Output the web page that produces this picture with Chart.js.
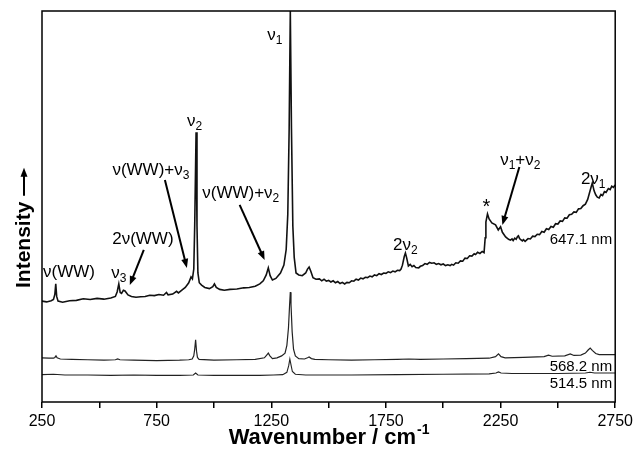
<!DOCTYPE html>
<html>
<head>
<meta charset="utf-8">
<script src="https://cdn.jsdelivr.net/npm/chart.js@4"></script>
<style>
  body { margin: 0; background: #fff; }
  canvas { display: block; }
</style>
</head>
<body>
<canvas id="myChart" width="637" height="457"></canvas>
<script>
// 647.1 nm spectrum (top)
const wn647 = [
  250, 270, 290, 300, 306, 310, 314, 320, 340, 370, 400, 430, 460, 490, 520, 550, 570, 578, 585, 591, 597, 605, 612, 625, 640, 660, 680, 700, 720, 740, 760, 780, 793, 800, 820, 837, 845, 860, 875, 890, 900, 906, 912, 916, 922, 926, 930, 936, 946, 960, 980, 995, 1002, 1010, 1025, 1045, 1070, 1100, 1130, 1154, 1180, 1200, 1215, 1228, 1237, 1245, 1255, 1270, 1290, 1305, 1315, 1322, 1328, 1333, 1338, 1344, 1350, 1358, 1370, 1385, 1400, 1408, 1415, 1422, 1432, 1445,
  1460, 1470, 1480, 1490, 1500, 1510, 1520, 1530, 1540, 1550, 1560, 1570, 1580, 1590, 1600, 1610, 1620, 1630, 1640, 1650, 1660, 1670, 1680, 1690, 1700, 1710, 1720, 1730, 1740, 1750, 1760, 1770, 1780, 1790, 1800, 1810, 1816, 1822, 1830, 1835, 1840,
  1848, 1856, 1864, 1872, 1880, 1893, 1900, 1910, 1920, 1930, 1940, 1950, 1960, 1970, 1980, 1990, 2000, 2010, 2020, 2030, 2037, 2045, 2055, 2065, 2075, 2085, 2095, 2105, 2115, 2125, 2135, 2141, 2150, 2160, 2170, 2178,
  2183, 2186, 2193, 2200, 2212, 2228, 2240, 2250, 2258, 2272, 2285,
  2293, 2300, 2305, 2312, 2318, 2324, 2328, 2333, 2338, 2345, 2350, 2357, 2363, 2370, 2380, 2390, 2400, 2410, 2420, 2430, 2440, 2450, 2460, 2470, 2480, 2490, 2500, 2510, 2520, 2530, 2540, 2550, 2560, 2570, 2580, 2590, 2600, 2610, 2620, 2630, 2638, 2645, 2650, 2658, 2665, 2672, 2680, 2688, 2695, 2703, 2710, 2720, 2728, 2735, 2742, 2750
];
const int647 = [
  25.8, 25.6, 25.9, 26.2, 27.5, 30.2, 27.0, 25.8, 25.5, 25.9, 26.0, 26.4, 26.2, 26.5, 26.3, 26.6, 27.0, 28.2, 30.2, 28.0, 27.8, 28.6, 28.4, 27.4, 27.0, 26.8, 26.9, 27.0, 27.3, 27.2, 27.5, 27.3, 28.0, 27.4, 27.6, 28.3, 27.9, 28.6, 29.3, 30.5, 32.0, 31.5, 34.0, 45.0, 69.0, 45.0, 33.0, 30.5, 29.9, 29.3, 29.0, 29.5, 30.2, 29.3, 28.8, 28.6, 28.8, 28.9, 29.2, 29.3, 29.6, 30.2, 31.0, 32.5, 34.3, 32.3, 31.2, 31.6, 33.0, 35.0, 39.0, 48.0, 70.0, 100.0, 70.0, 45.0, 37.0, 33.0, 32.5, 32.3, 33.0, 34.0, 34.5, 33.5, 31.8, 31.4,
  31.5, 31.0, 31.4, 30.9, 31.1, 30.7, 31.0, 30.5, 30.8, 30.3, 30.6, 30.2, 30.6, 30.5, 31.0, 30.9, 31.4, 31.2, 31.7, 31.5, 31.9, 31.8, 32.2, 32.0, 32.5, 32.3, 32.8, 32.6, 33.0, 32.9, 33.3, 33.1, 33.5, 33.3, 33.7, 33.6, 34.0, 35.0, 37.2, 38.1, 37.0,
  34.8, 35.2, 34.6, 34.9, 34.4, 34.3, 34.7, 34.9, 35.4, 35.2, 35.7, 35.5, 35.6, 35.2, 35.4, 35.1, 35.3, 34.9, 35.1, 34.9, 35.2, 35.0, 35.6, 35.5, 36.1, 36.0, 36.8, 36.7, 37.4, 37.3, 37.9, 37.7, 38.3, 38.0, 38.5, 38.2,
  42.0, 46.0, 48.1, 46.8, 45.8, 45.3, 44.0, 44.8, 43.4, 42.2, 41.6,
  41.4, 41.7, 41.3, 41.9, 41.6, 42.3, 42.5, 41.8, 41.5, 41.2, 41.5, 41.1, 41.4, 41.8, 41.7, 42.4, 42.3, 42.9, 42.8, 43.6, 43.4, 44.3, 44.1, 44.9, 44.7, 45.6, 45.5, 46.3, 46.2, 47.1, 47.0, 47.9, 48.0, 48.6, 48.5, 49.4, 49.5, 50.2, 50.6, 51.8, 53.5, 55.0, 56.0, 54.0, 53.0, 52.4, 52.2, 53.1, 52.8, 53.8, 53.6, 54.6, 54.3, 55.2, 54.9, 55.5
];

// 568.2 nm spectrum (middle)
const wn568 = [250, 280, 300, 306, 311, 316, 330, 380, 450, 520, 570, 580, 590, 650, 750, 850, 890, 905, 912, 916, 920, 924, 928, 935, 1000, 1100, 1180, 1220, 1230, 1237, 1244, 1255, 1275, 1295, 1310, 1318, 1325, 1330, 1333, 1336, 1341, 1347, 1355, 1370, 1395, 1408, 1415, 1425, 1440, 1500, 1600, 1700, 1800, 1850, 1900, 2000, 2100, 2200, 2228, 2241, 2252, 2270, 2350, 2440, 2459, 2475, 2530, 2554, 2570, 2600, 2620, 2632, 2641, 2650, 2665, 2680, 2750];
const int568 = [11.3, 11.2, 11.2, 11.4, 11.8, 11.3, 11.0, 10.9, 10.8, 10.7, 10.8, 11.0, 10.8, 10.7, 10.6, 10.7, 10.8, 11.0, 11.8, 13.5, 15.9, 13.0, 11.4, 10.9, 10.7, 10.8, 10.9, 11.3, 12.0, 12.5, 11.8, 11.1, 11.3, 11.8, 12.5, 14.5, 19.0, 25.0, 28.1, 25.0, 18.0, 13.5, 11.8, 11.1, 11.0, 11.3, 11.5, 11.1, 10.9, 10.8, 10.7, 10.8, 10.9, 11.0, 10.9, 11.0, 11.1, 11.2, 11.6, 12.3, 11.6, 11.3, 11.4, 11.6, 12.0, 11.7, 11.8, 12.3, 11.9, 12.0, 12.5, 13.3, 13.8, 13.2, 12.4, 12.1, 12.1];

// 514.5 nm spectrum (bottom)
const wn514 = [250, 300, 350, 450, 550, 650, 750, 850, 910, 920, 930, 1000, 1100, 1200, 1260, 1300, 1318, 1326, 1331, 1336, 1342, 1355, 1400, 1600, 1800, 2000, 2200, 2230, 2241, 2252, 2300, 2500, 2620, 2640, 2660, 2750];
const int514 = [7.0, 7.1, 6.9, 6.9, 6.8, 6.9, 6.8, 6.8, 6.9, 7.4, 6.9, 6.8, 6.8, 6.8, 6.9, 7.0, 7.6, 9.3, 11.0, 9.5, 7.8, 7.1, 6.9, 6.9, 7.0, 7.1, 7.2, 7.4, 7.7, 7.4, 7.3, 7.3, 7.4, 7.6, 7.4, 7.4];

// peak labels ('_' = subscript next char), placed in data units
const peakText = ['ν_1', 'ν_2', 'ν(WW)+ν_3', 'ν(WW)+ν_2', '2ν(WW)', 'ν(WW)', 'ν_3', '2ν_2', '*', 'ν_1+ν_2', '2ν_1'];
const peakWn   = [1265, 916, 725, 1117, 690, 368, 585, 1835, 2188, 2336, 2654];
const peakInt  = [94.1, 72.1, 59.6, 53.7, 41.9, 33.5, 33.2, 40.4, 50.1, 62.1, 57.3];

// arrows: [fromWn, fromInt, toWn, toInt]
const arrows = [
  [786, 56.8, 882, 34.3],
  [1112, 50.4, 1221, 36.3],
  [694, 38.9, 633, 29.9],
  [2332, 60.1, 2258, 45.3]
];

// excitation wavelength tags (right aligned)
const seriesNames = ['647.1 nm', '568.2 nm', '514.5 nm'];
const nameInt = [41.9, 9.2, 4.9];

const FONT = '"Liberation Sans", Arial, sans-serif';

function toPts(xs, ys) {
  return xs.map((w, i) => ({ x: w, y: ys[i] }));
}

function drawRich(ctx, str, cx, cy, size, align) {
  const parts = [];
  for (let i = 0; i < str.length; i++) {
    if (str[i] === '_') { parts.push({ t: str[i + 1], sub: true }); i++; }
    else parts.push({ t: str[i], sub: false });
  }
  let w = 0;
  parts.forEach(p => {
    ctx.font = (p.sub ? Math.round(size * 0.7) : size) + 'px ' + FONT;
    p.w = ctx.measureText(p.t).width;
    w += p.w;
  });
  let x = align === 'right' ? cx - w : cx - w / 2;
  const base = cy + size * 0.36;
  ctx.textAlign = 'left';
  ctx.textBaseline = 'alphabetic';
  parts.forEach(p => {
    ctx.font = (p.sub ? Math.round(size * 0.7) : size) + 'px ' + FONT;
    ctx.fillText(p.t, x, p.sub ? base + size * 0.22 : base);
    x += p.w;
  });
}

function arrow(ctx, x1, y1, x2, y2) {
  const a = Math.atan2(y2 - y1, x2 - x1);
  const hl = 9, hw = 3.5;
  ctx.beginPath();
  ctx.moveTo(x1, y1);
  ctx.lineTo(x2 - Math.cos(a) * hl * 0.8, y2 - Math.sin(a) * hl * 0.8);
  ctx.stroke();
  ctx.beginPath();
  ctx.moveTo(x2, y2);
  ctx.lineTo(x2 - Math.cos(a) * hl - Math.sin(a) * hw, y2 - Math.sin(a) * hl + Math.cos(a) * hw);
  ctx.lineTo(x2 - Math.cos(a) * hl + Math.sin(a) * hw, y2 - Math.sin(a) * hl - Math.cos(a) * hw);
  ctx.closePath();
  ctx.fill();
}

const annot = {
  id: 'annot',
  afterDraw(chart) {
    const { ctx, chartArea: a, scales: { x, y } } = chart;
    ctx.save();
    ctx.fillStyle = '#000';
    ctx.strokeStyle = '#000';

    // frame
    ctx.lineWidth = 1.5;
    ctx.strokeRect(a.left, a.top, a.right - a.left, a.bottom - a.top);

    // peak labels
    peakText.forEach((t, i) => {
      drawRich(ctx, t, x.getPixelForValue(peakWn[i]), y.getPixelForValue(peakInt[i]), t === '*' ? 20 : 17, 'center');
    });

    // arrows
    ctx.lineWidth = 2;
    arrows.forEach(r => {
      arrow(ctx, x.getPixelForValue(r[0]), y.getPixelForValue(r[1]), x.getPixelForValue(r[2]), y.getPixelForValue(r[3]));
    });

    // series tags
    seriesNames.forEach((s, i) => {
      drawRich(ctx, s, a.right - 3, y.getPixelForValue(nameInt[i]), 15, 'right');
    });

    // x title with superscript
    ctx.font = 'bold 22px ' + FONT;
    const main = 'Wavenumber / cm';
    const mw = ctx.measureText(main).width;
    ctx.font = 'bold 14px ' + FONT;
    const sw = ctx.measureText('-1').width;
    const cx = (a.left + a.right) / 2;
    const tx = cx - (mw + sw) / 2;
    ctx.textAlign = 'left';
    ctx.textBaseline = 'alphabetic';
    ctx.font = 'bold 22px ' + FONT;
    ctx.fillText(main, tx, 444);
    ctx.font = 'bold 14px ' + FONT;
    ctx.fillText('-1', tx + mw + 1, 434);

    // y title with arrow
    ctx.save();
    ctx.translate(30, 288);
    ctx.rotate(-Math.PI / 2);
    ctx.font = 'bold 21px ' + FONT;
    ctx.fillText('Intensity', 0, 0);
    const iw = ctx.measureText('Intensity').width;
    ctx.lineWidth = 2;
    arrow(ctx, iw + 6, -6, iw + 34, -6);
    ctx.restore();

    ctx.restore();
  }
};

const ctx = document.getElementById('myChart').getContext('2d');
const myChart = new Chart(ctx, {
  type: 'line',
  data: {
    datasets: [
      { label: seriesNames[0], data: toPts(wn647, int647), borderColor: '#111', borderWidth: 1.6 },
      { label: seriesNames[1], data: toPts(wn568, int568), borderColor: '#222', borderWidth: 1.2 },
      { label: seriesNames[2], data: toPts(wn514, int514), borderColor: '#222', borderWidth: 1.1 }
    ]
  },
  options: {
    responsive: false,
    animation: false,
    devicePixelRatio: 1,
    elements: { point: { radius: 0 }, line: { tension: 0 } },
    layout: { padding: { top: 11, right: 21, left: 0, bottom: 0 } },
    plugins: { legend: { display: false }, tooltip: { enabled: false } },
    scales: {
      x: {
        type: 'linear',
        min: 250,
        max: 2750,
        border: { display: false },
        grid: { drawOnChartArea: false, tickLength: 6, color: '#000', lineWidth: 1.5 },
        ticks: {
          stepSize: 250,
          autoSkip: false,
          maxRotation: 0,
          padding: 4,
          color: '#000',
          font: { size: 16, family: FONT },
          callback: v => ((v - 250) % 500 === 0 ? v : '')
        },
        afterFit: s => { s.height = 55; }
      },
      y: {
        min: 0,
        max: 100,
        border: { display: false },
        grid: { display: false },
        ticks: { display: false },
        afterFit: s => { s.width = 42; }
      }
    }
  },
  plugins: [annot]
});
</script>
</body>
</html>
